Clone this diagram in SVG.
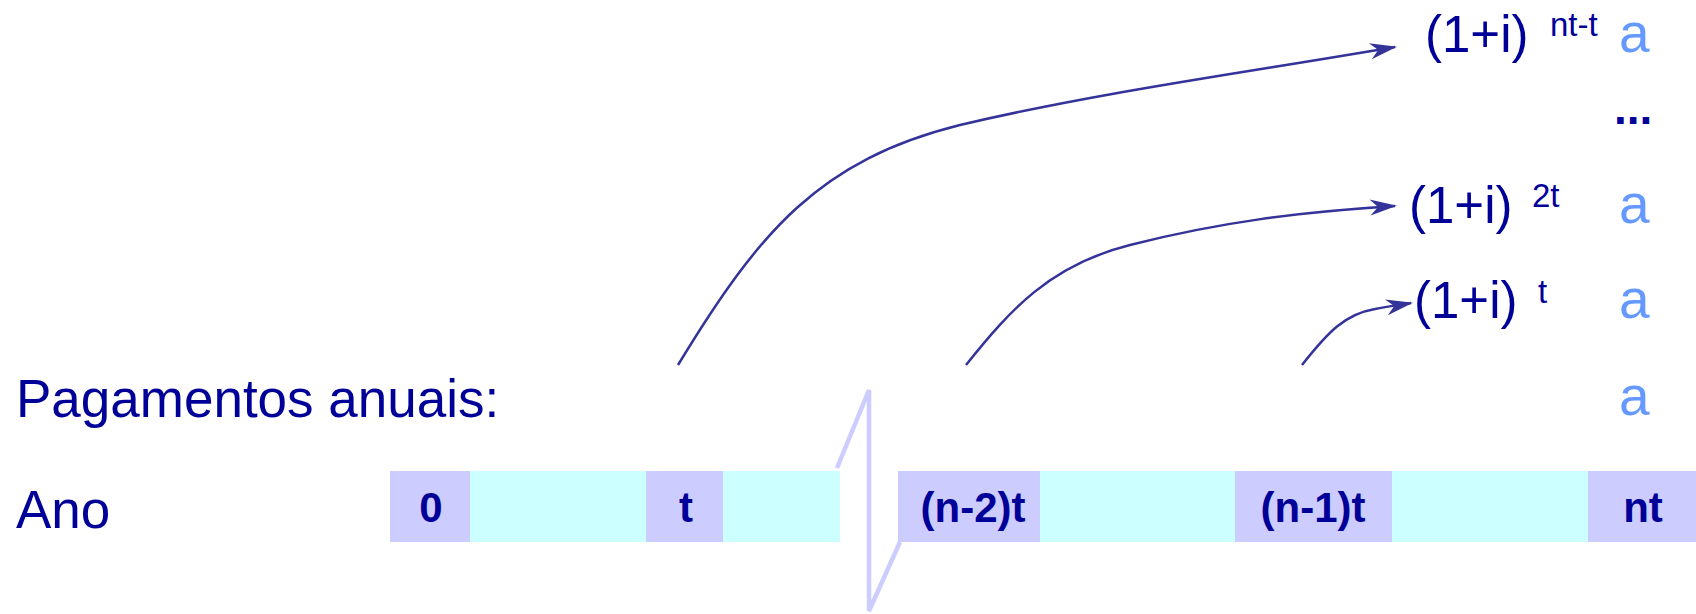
<svg xmlns="http://www.w3.org/2000/svg" width="1696" height="614" viewBox="0 0 1696 614">
  <style>
    .lbl { font-family: "Liberation Sans", Arial, sans-serif; fill: #000099; }
    .big { font-size: 53px; }
    .fx { font-size: 51px; }
    .sup { font-size: 33px; }
    .a { font-family: "Liberation Sans", Arial, sans-serif; font-size: 55px; fill: #6699ff; }
    .box { font-family: "Liberation Sans", Arial, sans-serif; font-size: 42px; font-weight: bold; fill: #000099; text-anchor: middle; }
    .lav { fill: #ccccff; }
    .cy { fill: #ccffff; }
    .conn { fill: none; stroke: #333399; stroke-width: 2.5; marker-end: url(#arr); }
    .brk { fill: none; stroke: #ccccff; stroke-width: 4.5; stroke-linejoin: miter; }
  </style>
  <defs>
    <marker id="arr" markerUnits="userSpaceOnUse" markerWidth="32" markerHeight="22" viewBox="-28 -11 32 22" refX="0" refY="0" orient="auto">
      <path d="M2,0 L-25,-8 L-17,0 L-25,8 Z" fill="#333399"/>
    </marker>
  </defs>
  <rect width="1696" height="614" fill="#ffffff"/>

  <g id="label-pagamentos"><text class="lbl big" x="16" y="417">Pagamentos anuais:</text></g>
  <g id="label-ano"><text class="lbl big" x="16" y="528">Ano</text></g>

  <g id="timeline">
    <g id="box-0"><rect class="lav" x="390" y="471" width="80" height="71"/><text class="box" x="431" y="522">0</text></g>
    <rect class="cy" x="470" y="471" width="176" height="71"/>
    <g id="box-t"><rect class="lav" x="646" y="471" width="77" height="71"/><text class="box" x="686" y="522">t</text></g>
    <rect class="cy" x="723" y="471" width="117" height="71"/>
    <g id="box-n2t"><rect class="lav" x="898" y="471" width="142" height="71"/><text class="box" x="973" y="522">(n-2)t</text></g>
    <rect class="cy" x="1040" y="471" width="195" height="71"/>
    <g id="box-n1t"><rect class="lav" x="1235" y="471" width="157" height="71"/><text class="box" x="1313" y="522">(n-1)t</text></g>
    <rect class="cy" x="1392" y="471" width="196" height="71"/>
    <g id="box-nt"><rect class="lav" x="1588" y="471" width="108" height="71"/><text class="box" x="1643" y="522">nt</text></g>
    <g id="break"><path class="brk" d="M837,468 L869,390 L869,611 L900,542"/></g>
  </g>

  <g id="factor-ntt">
    <text class="lbl fx" x="1425" y="52">(1+i)</text>
    <text class="lbl sup" x="1550" y="36">nt-t</text>
  </g>
  <g id="factor-2t">
    <text class="lbl fx" x="1409" y="223">(1+i)</text>
    <text class="lbl sup" x="1532" y="207">2t</text>
  </g>
  <g id="factor-t">
    <text class="lbl fx" x="1414" y="318">(1+i)</text>
    <text class="lbl sup" x="1538" y="303">t</text>
  </g>

  <g id="payments">
    <text class="a" x="1619" y="52">a</text>
    <text class="lbl" x="1614" y="124" style="font-size:46px;font-weight:bold">...</text>
    <text class="a" x="1619" y="223">a</text>
    <text class="a" x="1619" y="318">a</text>
    <text class="a" x="1619" y="415">a</text>
  </g>

  <g id="connectors">
    <path class="conn" d="M678,365 C760,230 820,160 960,125 C1100,92 1250,72 1395,47"/>
    <path class="conn" d="M966,365 C1010,310 1050,265 1130,245 C1220,222 1300,212 1395,206"/>
    <path class="conn" d="M1302,365 C1328,332 1345,314 1375,309 C1390,306 1400,305 1411,303"/>
  </g>
</svg>
